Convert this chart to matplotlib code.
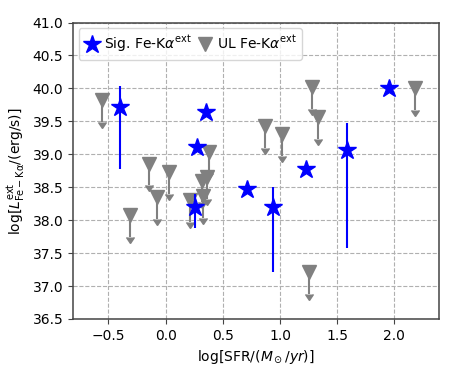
import numpy as np
import matplotlib
matplotlib.use("Agg")
import matplotlib.pyplot as plt

# detecciones significativas (estrellas azules)
sig_sfr = [-0.40, 0.354, 0.278, 0.258, 0.715, 0.937, 1.228, 1.584, 1.957]
sig_lum = [39.72, 39.64, 39.11, 38.20, 38.48, 38.20, 38.77, 39.06, 40.00]
sig_err_lo = [0.95, 0.0, 0.0, 0.32, 0.0, 0.99, 0.0, 1.48, 0.0]
sig_err_hi = [0.31, 0.0, 0.0, 0.20, 0.0, 0.31, 0.0, 0.41, 0.0]

# limites superiores (triangulos grises)
ul_sfr = [-0.558, -0.31, -0.142, -0.077, 0.033, 0.214, 0.325, 0.316, 0.36,
          0.383, 0.87, 1.016, 1.278, 1.336, 1.257, 2.181]
ul_lum = [39.82, 38.08, 38.86, 38.35, 38.73, 38.30, 38.37, 38.60, 38.65,
          39.04, 39.43, 39.31, 40.02, 39.56, 37.21, 40.00]
ul_arrow = 0.33

fig = plt.figure(figsize=(4.63, 3.71), dpi=100)
ax = fig.add_axes([73/463, 1-319/371, (439-73)/463, (319-22.5)/371])

# flechas de limite superior
ax.errorbar(ul_sfr, ul_lum, yerr=ul_arrow, uplims=True, fmt='none', ecolor='gray',
            color='gray', elinewidth=1.5, zorder=2)
h_ul, = ax.plot(ul_sfr, ul_lum, 'v', color='gray', ms=9.5, zorder=2)
ax.errorbar(sig_sfr, sig_lum, yerr=[sig_err_lo, sig_err_hi], fmt='none', ecolor='blue',
            elinewidth=1.5, zorder=3)
h_sig, = ax.plot(sig_sfr, sig_lum, '*', color='blue', ms=13.5, zorder=3)

ax.set_xlim(-0.81, 2.39)
ax.set_ylim(36.5, 41.0)
ax.set_xticks([-0.5, 0.0, 0.5, 1.0, 1.5, 2.0])
ax.set_yticks(np.arange(36.5, 41.01, 0.5))
ax.grid(True, linestyle='--', color='#b0b0b0', linewidth=0.8)
ax.set_axisbelow(True)
for s in ax.spines.values():
    s.set_color('#444444')
    s.set_linewidth(1.1)
ax.tick_params(labelsize=10, color='#444444')

ax.set_xlabel(r'log[SFR/($M_\odot/yr$)]', fontsize=10)
ax.set_ylabel(r'log[$L^{\rm ext}_{\rm Fe-K\alpha}$/(erg/s)]', fontsize=10)

ax.legend([h_sig, h_ul], [r'Sig. Fe-K$\alpha^{\rm ext}$', r'UL Fe-K$\alpha^{\rm ext}$'],
          loc='upper left', ncol=2, fontsize=10, handlelength=1.2,
          handletextpad=0.2, columnspacing=0.4, borderaxespad=0.4)

fig.savefig('out.png', dpi=100)
